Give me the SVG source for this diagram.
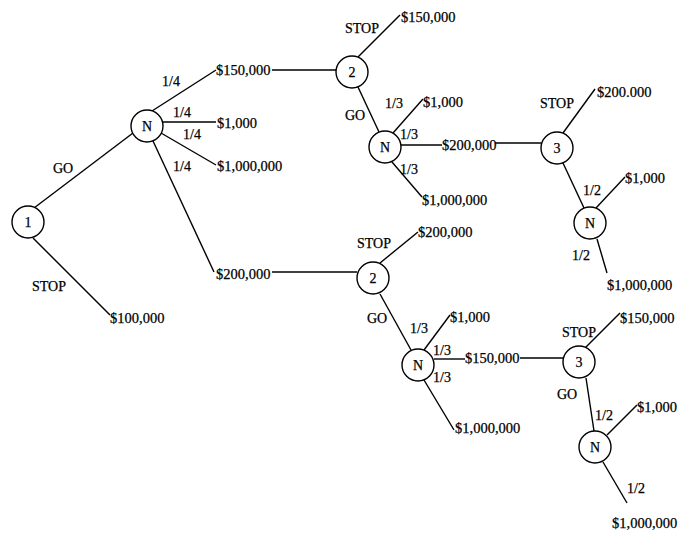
<svg xmlns="http://www.w3.org/2000/svg" width="689" height="533" viewBox="0 0 689 533">
<style>
.e{stroke:#000;stroke-width:1.4;fill:none}
.n circle{fill:#fff;stroke:#000;stroke-width:1.4}
text{font-family:"Liberation Serif","Times New Roman",serif;fill:#000;stroke:#000;stroke-width:0.25}
.m{font-size:14.5px}
.l{font-size:14px}
.c{font-size:14px;text-anchor:middle}
</style>
<rect width="689" height="533" fill="#fff"/>
<g id="connectors">
<line class="e" x1="34" y1="208" x2="133" y2="133"/>
<line class="e" x1="33" y1="238" x2="110" y2="315"/>
<line class="e" x1="152" y1="111" x2="216" y2="70"/>
<line class="e" x1="163" y1="122" x2="216" y2="122"/>
<line class="e" x1="161" y1="133" x2="216" y2="165"/>
<line class="e" x1="153" y1="141" x2="214" y2="272"/>
<line class="e" x1="272" y1="70" x2="336" y2="70"/>
<line class="e" x1="358" y1="57" x2="400" y2="15"/>
<line class="e" x1="358" y1="87" x2="379" y2="132"/>
<line class="e" x1="393" y1="133" x2="423" y2="99"/>
<line class="e" x1="401" y1="145" x2="442" y2="145"/>
<line class="e" x1="495" y1="143" x2="541" y2="143"/>
<line class="e" x1="392" y1="162" x2="422" y2="197"/>
<line class="e" x1="563" y1="133" x2="595" y2="89"/>
<line class="e" x1="563" y1="163" x2="584" y2="208"/>
<line class="e" x1="596" y1="208" x2="625" y2="177"/>
<line class="e" x1="597" y1="239" x2="607" y2="273"/>
<line class="e" x1="272" y1="272" x2="357" y2="272"/>
<line class="e" x1="380" y1="263" x2="418" y2="232"/>
<line class="e" x1="380" y1="294" x2="411" y2="350"/>
<line class="e" x1="424" y1="350" x2="450" y2="315"/>
<line class="e" x1="434" y1="359" x2="465" y2="359"/>
<line class="e" x1="520" y1="358" x2="563" y2="358"/>
<line class="e" x1="424" y1="380" x2="454" y2="430"/>
<line class="e" x1="585" y1="348" x2="620" y2="313"/>
<line class="e" x1="586" y1="378" x2="594" y2="431"/>
<line class="e" x1="607" y1="435" x2="637" y2="405"/>
<line class="e" x1="603" y1="462" x2="627" y2="503"/>
</g>
<g id="node1" class="n"><circle cx="28" cy="222" r="16"/><text class="c" x="28" y="227">1</text></g>
<g id="chance1" class="n"><circle cx="147" cy="126" r="16"/><text class="c" x="147" y="131">N</text></g>
<g id="node2a" class="n"><circle cx="352" cy="72" r="16"/><text class="c" x="352" y="77">2</text></g>
<g id="chance2a" class="n"><circle cx="385" cy="147" r="16"/><text class="c" x="385" y="152">N</text></g>
<g id="node3a" class="n"><circle cx="557" cy="148" r="16"/><text class="c" x="557" y="153">3</text></g>
<g id="chance3a" class="n"><circle cx="590" cy="223" r="16"/><text class="c" x="590" y="228">N</text></g>
<g id="node2b" class="n"><circle cx="373" cy="278" r="16"/><text class="c" x="373" y="283">2</text></g>
<g id="chance2b" class="n"><circle cx="418" cy="365" r="16"/><text class="c" x="418" y="370">N</text></g>
<g id="node3b" class="n"><circle cx="579" cy="362" r="16"/><text class="c" x="579" y="367">3</text></g>
<g id="chance3b" class="n"><circle cx="595" cy="447" r="16"/><text class="c" x="595" y="452">N</text></g>
<g id="labels">
<text class="l" x="53" y="173">GO</text>
<text class="l" x="32" y="291">STOP</text>
<text class="m" x="110" y="323">$100,000</text>
<text class="l" x="162" y="86">1/4</text>
<text class="m" x="216" y="75">$150,000</text>
<text class="l" x="173" y="117">1/4</text>
<text class="m" x="217" y="128">$1,000</text>
<text class="l" x="183" y="139">1/4</text>
<text class="m" x="217" y="171">$1,000,000</text>
<text class="l" x="173" y="171">1/4</text>
<text class="m" x="216" y="279">$200,000</text>
<text class="l" x="345" y="33">STOP</text>
<text class="m" x="401" y="22">$150,000</text>
<text class="l" x="345" y="120">GO</text>
<text class="l" x="385" y="108">1/3</text>
<text class="m" x="423" y="107">$1,000</text>
<text class="l" x="400" y="139">1/3</text>
<text class="m" x="442" y="150">$200,000</text>
<text class="l" x="400" y="174">1/3</text>
<text class="m" x="422" y="205">$1,000,000</text>
<text class="l" x="540" y="108">STOP</text>
<text class="m" x="597" y="97">$200.000</text>
<text class="l" x="583" y="195">1/2</text>
<text class="m" x="625" y="183">$1,000</text>
<text class="l" x="572" y="260">1/2</text>
<text class="m" x="607" y="290">$1,000,000</text>
<text class="l" x="357" y="248">STOP</text>
<text class="m" x="418" y="237">$200,000</text>
<text class="l" x="367" y="323">GO</text>
<text class="l" x="410" y="333">1/3</text>
<text class="m" x="450" y="322">$1,000</text>
<text class="l" x="433" y="355">1/3</text>
<text class="m" x="465" y="363">$150,000</text>
<text class="l" x="433" y="382">1/3</text>
<text class="m" x="455" y="433">$1,000,000</text>
<text class="l" x="562" y="337">STOP</text>
<text class="m" x="620" y="323">$150,000</text>
<text class="l" x="557" y="399">GO</text>
<text class="l" x="595" y="420">1/2</text>
<text class="m" x="637" y="412">$1,000</text>
<text class="l" x="627" y="493">1/2</text>
<text class="m" x="612" y="528">$1,000,000</text>
</g>
</svg>
